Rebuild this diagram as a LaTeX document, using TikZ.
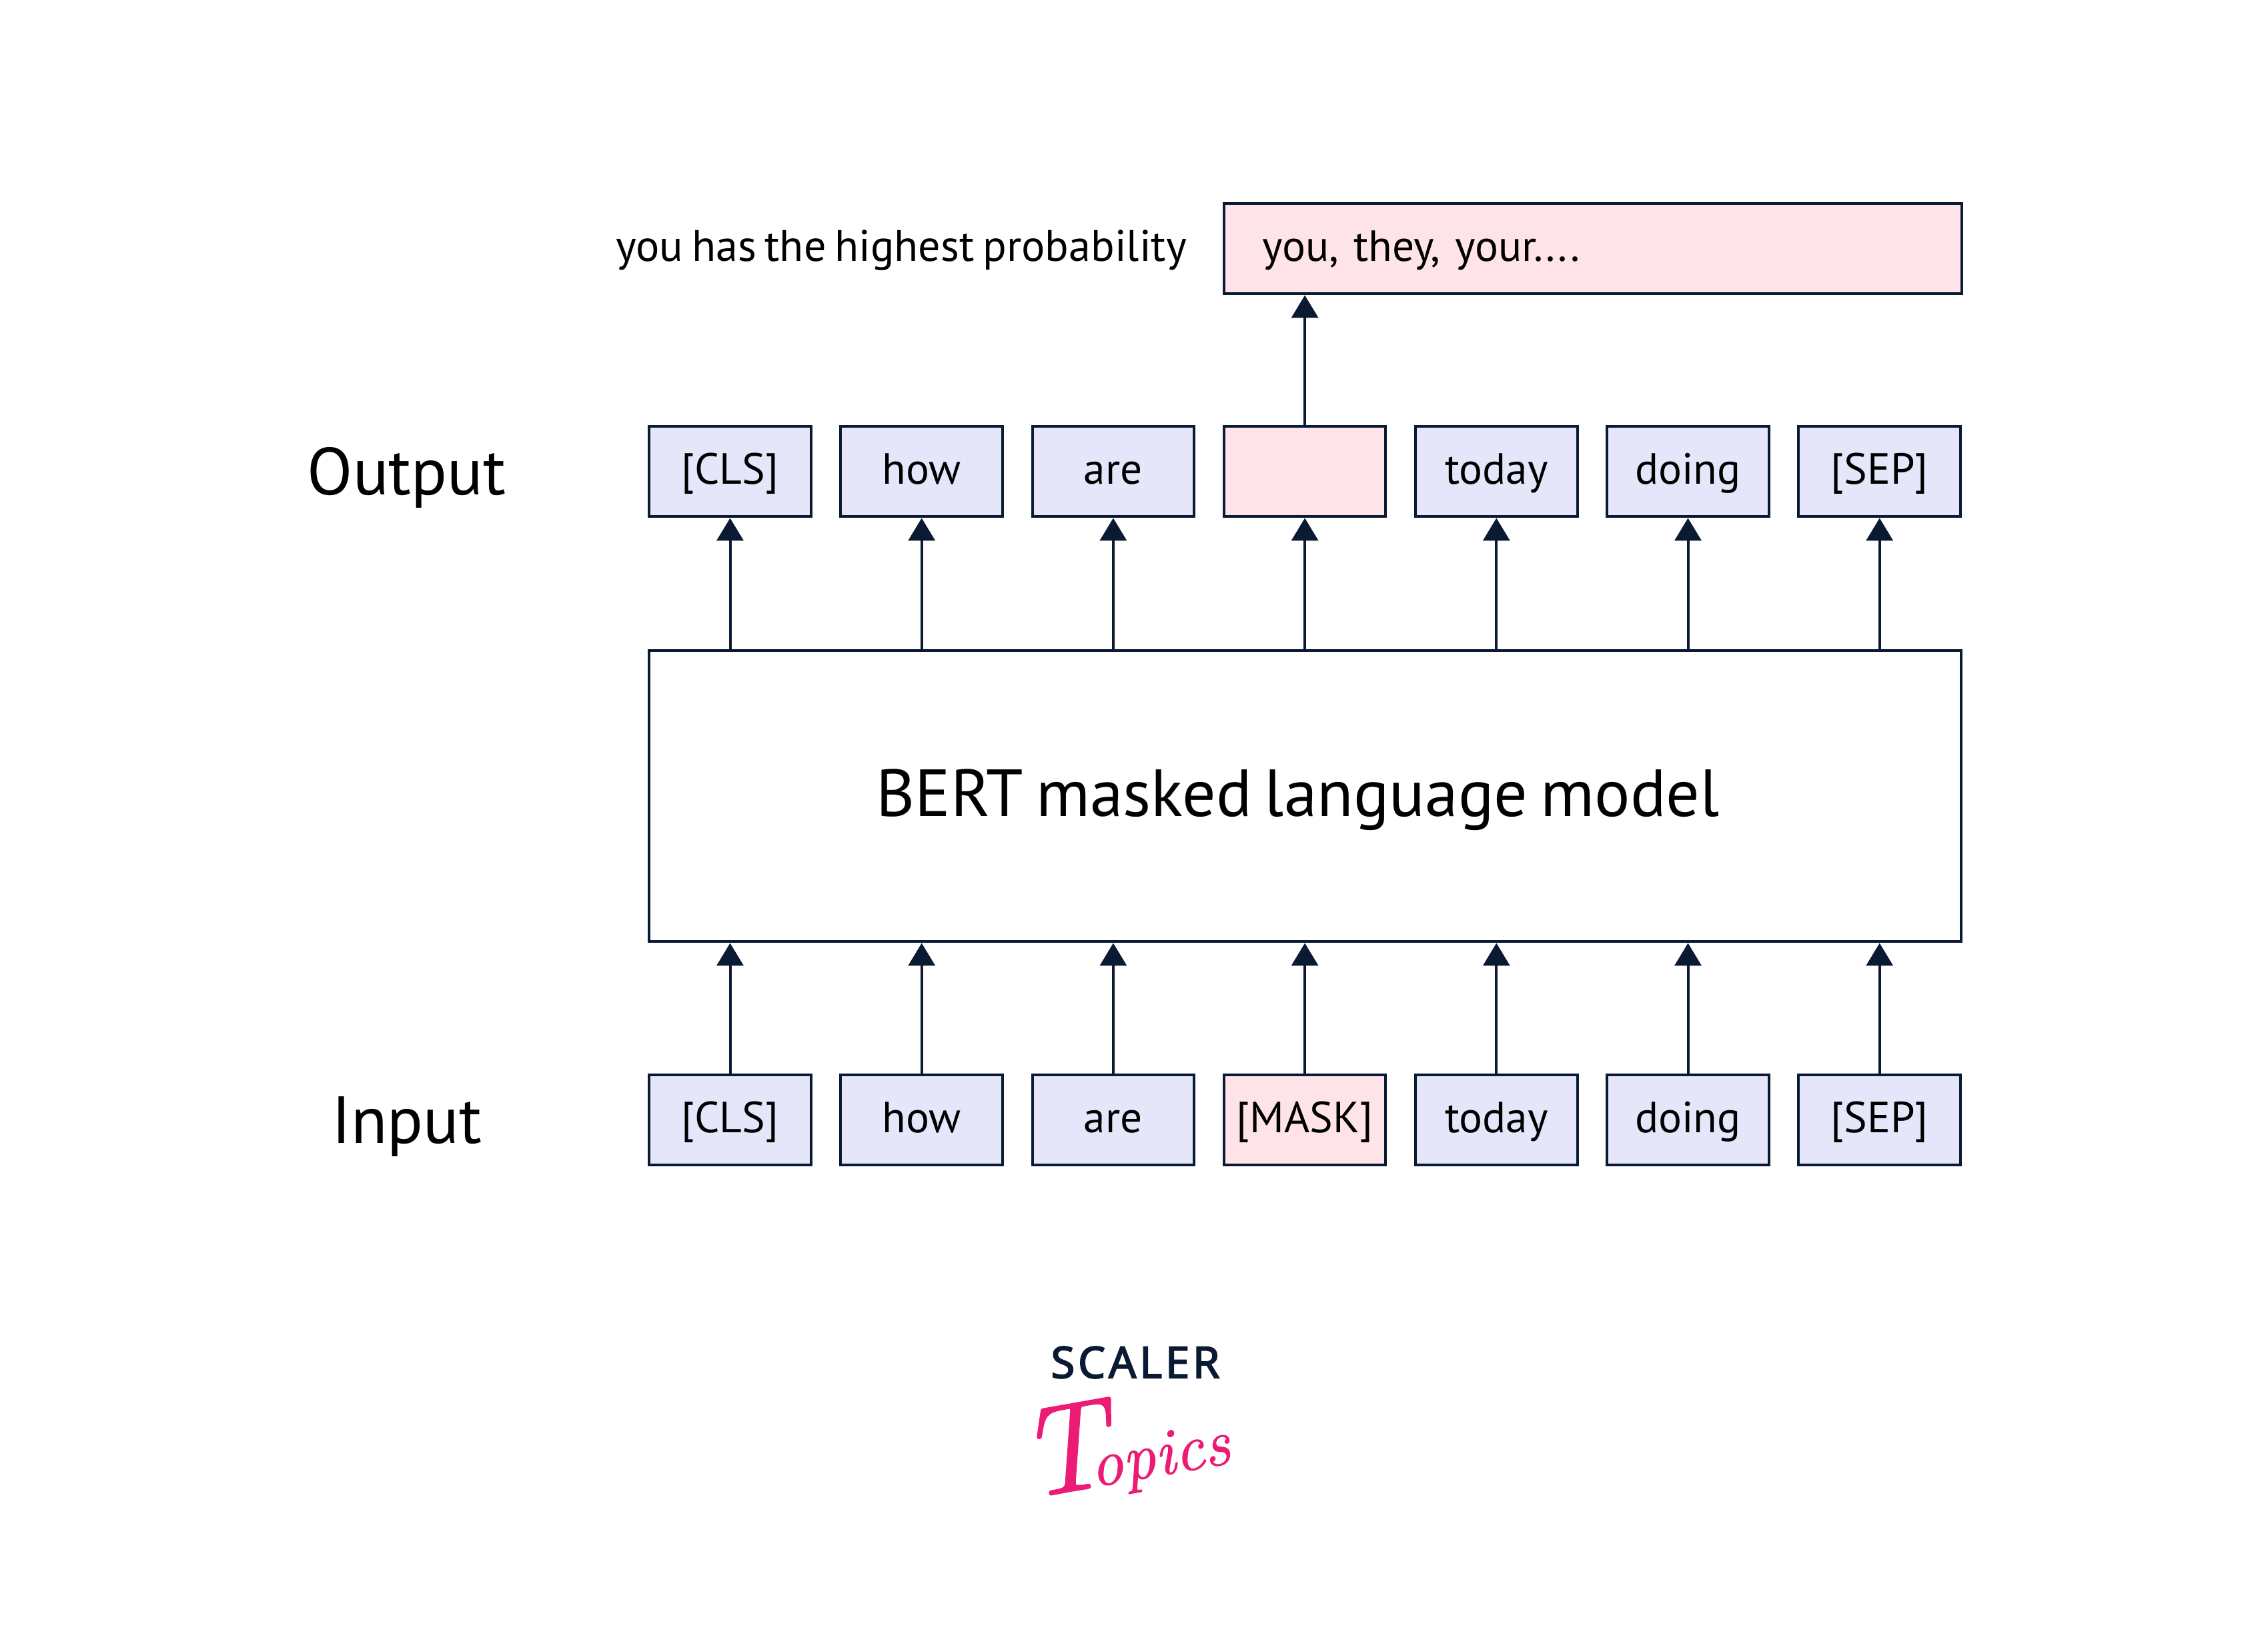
\documentclass[tikz,border=0pt]{standalone}
\usepackage{fontspec}
\setmainfont[WordSpace=.72]{PT Sans}
\newfontfamily\scalerfont[LetterSpace=7,FakeBold=2.6]{Noto Sans}
\newfontfamily\topicsfont[FakeBold=1.2]{Latin Modern Roman}
\usepackage{tikz}
\usetikzlibrary{positioning,arrows.meta}
\definecolor{inkblue}{HTML}{0B1A33}
\definecolor{tokenblue}{HTML}{E6E6FB}
\definecolor{maskpink}{HTML}{FEE3E8}
\definecolor{logopink}{HTML}{EC1C74}

\begin{document}
\begin{tikzpicture}[
	node distance=.405cm
	,box/.style={rectangle, draw=inkblue, line width=.04cm, text=black, text height=.55cm, text depth=.17cm, font=\fontsize{18.6}{22}\selectfont}
	,t/.style={box, fill=tokenblue, minimum width=2.427cm, minimum height=1.35cm, inner sep=0}
	,m/.style={box, fill=maskpink, minimum width=2.427cm, minimum height=1.35cm, inner sep=0}
	,lbl/.style={inner sep=0, font=\fontsize{28.4}{32}\selectfont}
	,arr/.style={draw=inkblue, line width=.04cm, -{Triangle[length=.34cm, width=.4cm, inkblue]}}
]
	\useasboundingbox (0,0) rectangle (34,24.4);

	% output tokens
	\node [t] at (10.945,17.33) (o1) {[CLS]};
	\node [t, right=of o1] (o2) {how};
	\node [t, right=of o2] (o3) {are};
	\node [m, right=of o3] (o4) {};
	\node [t, right=of o4] (o5) {today};
	\node [t, right=of o5] (o6) {doing};
	\node [t, right=of o6] (o7) {[SEP]};

	% model and input tokens
	\node [box, below=1.97cm of o1.south west, anchor=north west, minimum width=19.67cm, minimum height=4.36cm, text height=.8cm, text depth=.2cm, font=\fontsize{28.4}{32}\selectfont] (bert) {\hspace*{-.22cm}BERT masked language model};

	\node [t, below=1.96cm of bert.south west, anchor=north west] (i1) {[CLS]};
	\node [t, right=of i1] (i2) {how};
	\node [t, right=of i2] (i3) {are};
	\node [m, right=of i3] (i4) {[MASK]};
	\node [t, right=of i4] (i5) {today};
	\node [t, right=of i5] (i6) {doing};
	\node [t, right=of i6] (i7) {[SEP]};

	% top box
	\node [box, fill=maskpink, above=1.95cm of o4.north west, anchor=south west, minimum height=1.35cm, inner xsep=.58cm, inner ysep=0, text width=9.9cm] (result) {you, they, your....};
	\node [left=.53cm of result, inner sep=0, text height=.55cm, text depth=.17cm, font=\fontsize{18.8}{22}\selectfont] (note) {you has the highest probability};

	\node [lbl, left=2.12cm of o1, yshift=-.09cm] (output) {Output};
	\node [lbl, yshift=-.1cm] at (output |- i1) (input) {Input};

	\draw [arr] (i1) -- (i1 |- bert.south);
	\draw [arr] (i2) -- (i2 |- bert.south);
	\draw [arr] (i3) -- (i3 |- bert.south);
	\draw [arr] (i4) -- (i4 |- bert.south);
	\draw [arr] (i5) -- (i5 |- bert.south);
	\draw [arr] (i6) -- (i6 |- bert.south);
	\draw [arr] (i7) -- (i7 |- bert.south);

	\draw [arr] (o1 |- bert.north) -- (o1);
	\draw [arr] (o2 |- bert.north) -- (o2);
	\draw [arr] (o3 |- bert.north) -- (o3);
	\draw [arr] (o4 |- bert.north) -- (o4);
	\draw [arr] (o5 |- bert.north) -- (o5);
	\draw [arr] (o6 |- bert.north) -- (o6);
	\draw [arr] (o7 |- bert.north) -- (o7);

	\draw [arr] (o4) -- (o4 |- result.south);

	% logo
	\node [inner sep=0, text=inkblue, font=\scalerfont\fontsize{18.6}{20}\selectfont] at (17.02,3.98) (scaler) {SCALER};
	\node [inner sep=0, text=logopink, rotate=10, below=.2cm of scaler, xshift=-.32cm, font=\topicsfont\itshape] (topics) {\fontsize{54}{60}\selectfont T\kern-.16em\fontsize{28}{36}\selectfont opics};
\end{tikzpicture}
\end{document}
